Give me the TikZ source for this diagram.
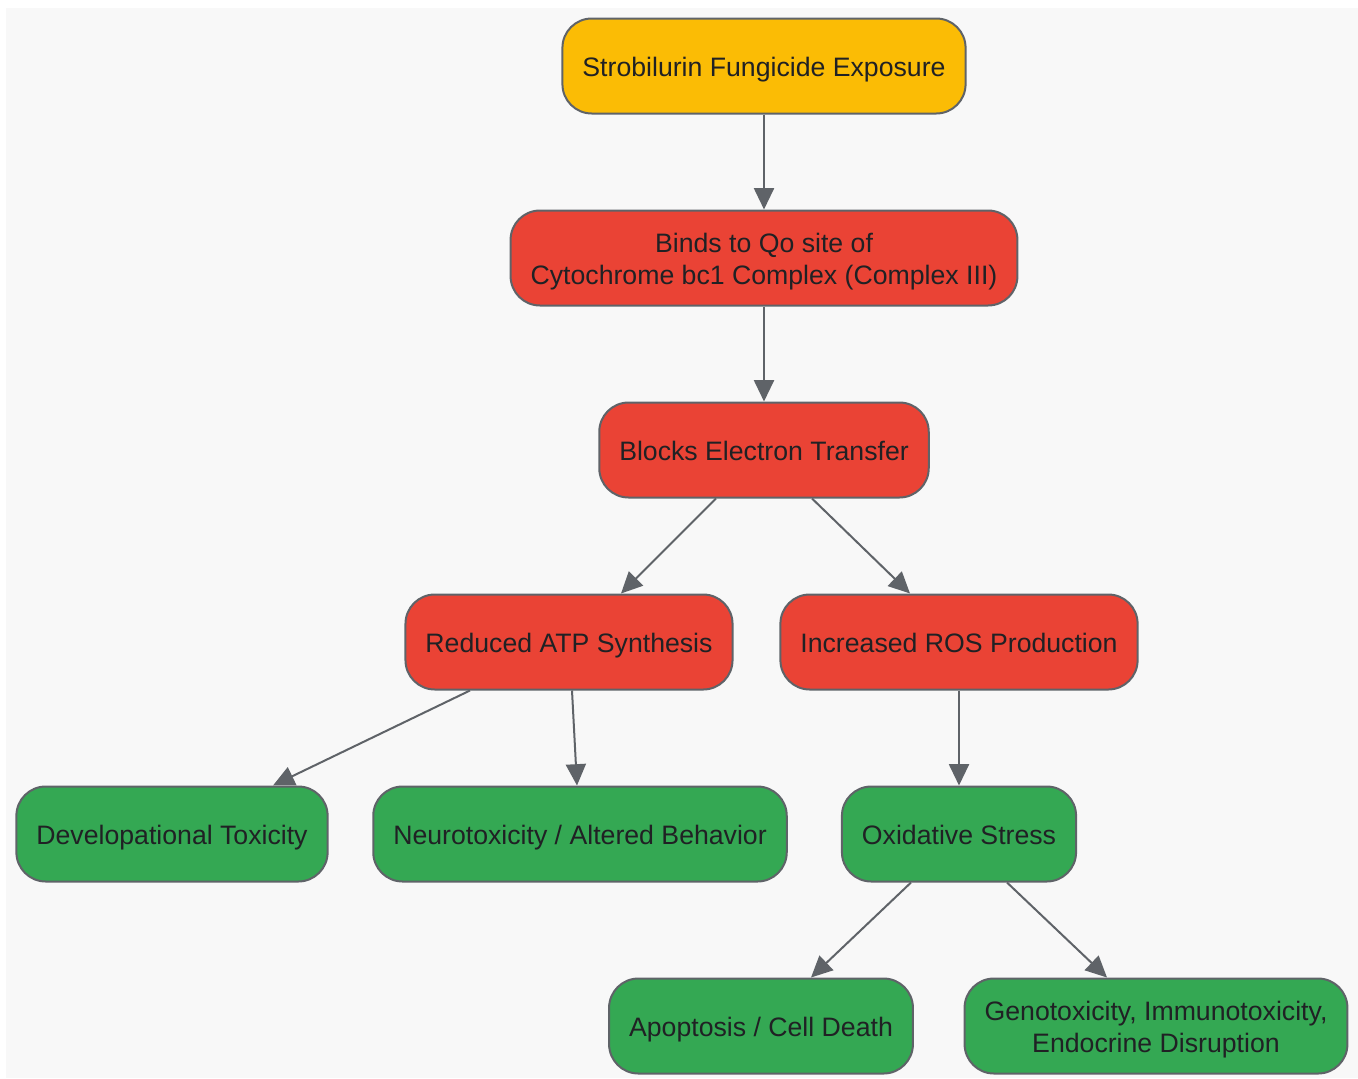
\documentclass[tikz,border=0pt]{standalone}
\usepackage{fontspec}
\setmainfont{Liberation Sans}
\usepackage{xcolor}
\usetikzlibrary{arrows.meta}

\definecolor{startY}{HTML}{FBBC05}
\definecolor{stepR}{HTML}{EA4335}
\definecolor{effG}{HTML}{34A853}
\definecolor{edgeC}{HTML}{5F6368}
\definecolor{txtC}{HTML}{202124}
\definecolor{bgC}{HTML}{F8F8F8}
\newcommand{\boxstrut}{\rule[-4.5pt]{0pt}{24pt}}

\begin{document}
\begin{tikzpicture}[
    x=0.75pt, y=-0.75pt,
    box/.style={rounded corners=22pt, draw=edgeC, line width=1.5pt, text=txtC,
      minimum height=71.25pt, inner xsep=15pt, inner ysep=0pt, align=center,
      font=\fontsize{20}{24}\selectfont},
    start/.style={box, fill=startY},
    hit/.style={box, fill=stepR},
    effect/.style={box, fill=effG},
    link/.style={draw=edgeC, line width=1.5pt, -{Triangle[length=16pt, width=15pt]}}
]

  % 背景
  \useasboundingbox (0,0) rectangle (1358,1078);
  \fill[bgC] (6,8) rectangle (1358,1078);

  % 定义节点位置
  \node[start] (expo) at (764,66) {\boxstrut Strobilurin Fungicide Exposure};
  \node[hit] (bind) at (764,258) {\boxstrut Binds to Qo site of\\Cytochrome bc1 Complex (Complex III)\boxstrut};
  \node[hit] (block) at (764,450) {\boxstrut Blocks Electron Transfer};
  \node[hit] (atp) at (569,642) {\boxstrut Reduced ATP Synthesis};
  \node[hit] (ros) at (959,642) {\boxstrut Increased ROS Production};
  \node[effect] (devel) at (172,834) {\boxstrut Developational Toxicity};
  \node[effect] (neuro) at (580,834) {\boxstrut Neurotoxicity / Altered Behavior};
  \node[effect] (oxi) at (959,834) {\boxstrut Oxidative Stress};
  \node[effect] (apop) at (761,1026) {\boxstrut Apoptosis / Cell Death};
  \node[effect] (geno) at (1156,1026) {\boxstrut Genotoxicity, Immunotoxicity,\\Endocrine Disruption\boxstrut};

  % 绘制有向边
  \draw[link] (expo) -- (bind);
  \draw[link] (bind) -- (block);
  \draw[link] ([xshift=-36pt]block.south) -- ([xshift=39pt]atp.north);
  \draw[link] ([xshift=36pt]block.south) -- ([xshift=-36.75pt]ros.north);
  \draw[link] ([xshift=-74.25pt]atp.south) -- ([xshift=75.75pt]devel.north);
  \draw[link] ([xshift=2.25pt]atp.south) -- ([xshift=-2.25pt]neuro.north);
  \draw[link] (ros) -- (oxi);
  \draw[link] ([xshift=-36pt]oxi.south) -- ([xshift=37.5pt]apop.north);
  \draw[link] ([xshift=36pt]oxi.south) -- ([xshift=-36.75pt]geno.north);
\end{tikzpicture}
\end{document}
